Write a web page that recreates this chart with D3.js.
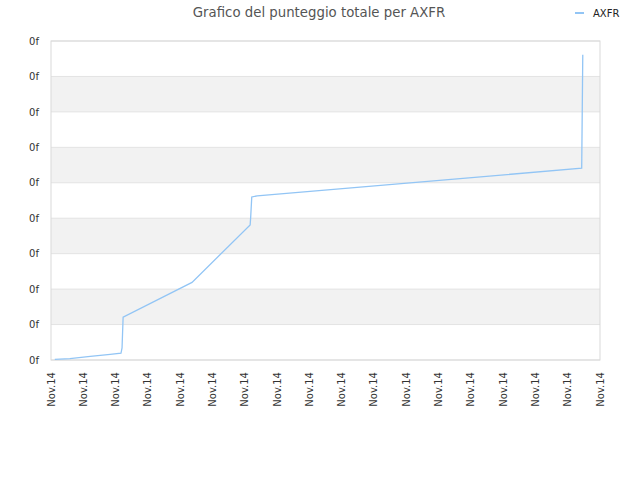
<!DOCTYPE html>
<html>
<head>
<meta charset="utf-8">
<script src="https://cdn.jsdelivr.net/npm/d3@7"></script>
<style>
body{margin:0;background:#fff}
text{font-family:"DejaVu Sans",sans-serif}
</style>
</head>
<body>
<svg width="640" height="480"></svg>
<script>
var title="Grafico del punteggio totale per AXFR"
var seriesName="AXFR"
// time of each score reading (all on Nov 14)
var times=["2014-11-14 00:07","2014-11-14 00:35","2014-11-14 01:13","2014-11-14 01:50",
  "2014-11-14 02:10","2014-11-14 02:12","2014-11-14 02:14","2014-11-14 04:22",
  "2014-11-14 06:10","2014-11-14 06:11","2014-11-14 06:13","2014-11-14 06:23",
  "2014-11-14 16:26","2014-11-14 16:28"]
var scores=[0.02,0.04,0.10,0.16,0.19,0.34,1.21,2.19,3.81,4.03,4.60,4.63,5.41,8.61]
var xStart="2014-11-14 00:00", xEnd="2014-11-14 17:00"
var yTicks=[0,1,2,3,4,5,6,7,8,9]
var yLabel="0f"

var parse=d3.timeParse("%Y-%m-%d %H:%M")
var data=times.map(function(t,i){return {x:parse(t),y:scores[i]}})

var margin={left:51,right:40,top:41,bottom:120}
var svg=d3.select("svg")
var w=640-margin.left-margin.right, h=480-margin.top-margin.bottom

var xScale=d3.scaleTime().domain([parse(xStart),parse(xEnd)]).range([0,w])
var yScale=d3.scaleLinear().domain([0,9]).range([h,0])

var g=svg.append("g").attr("transform","translate("+margin.left+","+margin.top+")")

// alternating bands
g.selectAll("rect.band")
  .data(yTicks.slice(0,-1).filter(function(d){return d%2==1}))
  .enter().append("rect")
  .attr("class","band")
  .attr("x",0).attr("width",w)
  .attr("y",function(d){return yScale(d+1)})
  .attr("height",function(d){return yScale(d)-yScale(d+1)})
  .attr("fill","#f2f2f2")

g.selectAll("line.grid")
  .data(yTicks)
  .enter().append("line")
  .attr("class","grid")
  .attr("x1",0).attr("x2",w)
  .attr("y1",function(d){return yScale(d)}).attr("y2",function(d){return yScale(d)})
  .attr("stroke","#e3e3e3")

g.append("rect").attr("width",w).attr("height",h)
  .attr("fill","none").attr("stroke","#d9d9d9")

var yAxis=g.append("g")
  .call(d3.axisLeft(yScale).tickValues(yTicks).tickFormat(function(){return yLabel}).tickSize(0).tickPadding(12))
yAxis.select(".domain").remove()
yAxis.selectAll("text").attr("fill","#333").style("font-size","10px")

var xAxis=g.append("g").attr("transform","translate(0,"+h+")")
  .call(d3.axisBottom(xScale).ticks(d3.timeHour.every(1)).tickFormat(d3.timeFormat("%b.%d")).tickSize(0))
xAxis.select(".domain").remove()
xAxis.selectAll("text")
  .attr("fill","#333").style("font-size","10px")
  .attr("text-anchor","end")
  .attr("transform","rotate(-90)")
  .attr("x",-12).attr("y",0).attr("dy","0.3em")

var line=d3.line().x(function(d){return xScale(d.x)}).y(function(d){return yScale(d.y)})
g.append("path").datum(data)
  .attr("d",line)
  .attr("fill","none")
  .attr("stroke","#92c5f5")
  .attr("stroke-width",1.3)

svg.append("text").attr("x",319).attr("y",17)
  .attr("text-anchor","middle").attr("fill","#555")
  .style("font-size","13.3px").text(title)

svg.append("line").attr("x1",575).attr("x2",584).attr("y1",13).attr("y2",13)
  .attr("stroke","#92c5f5").attr("stroke-width",2)
svg.append("text").attr("x",593).attr("y",16.5)
  .attr("fill","#222").style("font-size","10px").text(seriesName)
</script>
</body>
</html>
